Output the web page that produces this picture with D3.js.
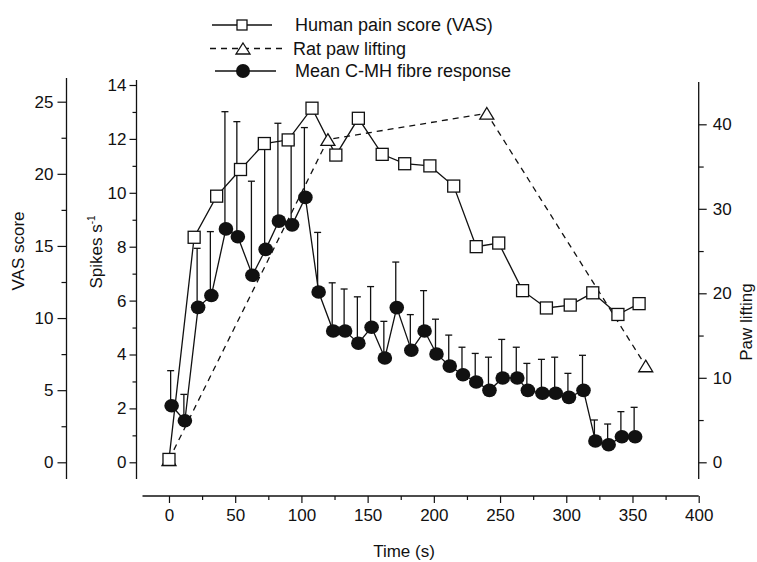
<!DOCTYPE html>
<html>
<head>
<meta charset="utf-8">
<script src="https://cdn.jsdelivr.net/npm/d3@7"></script>
<style>
  html, body { margin: 0; padding: 0; background: #fff; }
  svg { display: block; font-family: "Liberation Sans", Arial, Helvetica, sans-serif; }
</style>
</head>
<body>
<div id="chart"></div>
<script>
// ---------------- data ----------------
const timeTicks = [0, 50, 100, 150, 200, 250, 300, 350, 400];
const vasTicks = [0, 5, 10, 15, 20, 25];
const spikeTicks = [0, 2, 4, 6, 8, 10, 12, 14];
const pawTicks = [0, 10, 20, 30, 40];

const seriesNames = ["Human pain score (VAS)", "Rat paw lifting", "Mean C-MH fibre response"];

const vasTime  = [0, 19, 36, 54, 72, 90, 108, 126, 143, 161, 178, 197, 215, 232, 249, 267, 285, 303, 320, 339, 355];
const vasScore = [0.2, 15.6, 18.45, 20.3, 22.1, 22.35, 24.55, 21.3, 23.85, 21.35, 20.7, 20.55, 19.15, 14.95, 15.2, 11.9, 10.7, 10.9, 11.75, 10.25, 11.0];

const ratTime = [0, 120, 240, 360];
const ratPaw  = [0.3, 38.2, 41.3, 11.4];

const spikeTime = [2, 12, 22, 32, 43, 52, 63, 73, 83, 93, 103, 113, 124, 133, 143, 153, 163, 172, 183, 193, 202, 212, 222, 232, 242, 252, 263, 271, 282, 292, 302, 313, 322, 332, 342, 352];
const spikeMean = [2.10, 1.54, 5.75, 6.19, 8.66, 8.37, 6.94, 7.90, 8.95, 8.81, 9.83, 6.32, 4.87, 4.87, 4.42, 5.01, 3.87, 5.74, 4.16, 4.87, 4.02, 3.57, 3.25, 2.98, 2.67, 3.13, 3.13, 2.67, 2.56, 2.56, 2.41, 2.67, 0.79, 0.65, 0.95, 0.95];
const spikeSem  = [1.30, 0.98, 2.19, 2.37, 4.35, 4.27, 3.49, 3.75, 3.63, 3.0, 2.59, 2.21, 1.79, 1.56, 1.72, 1.51, 1.36, 1.69, 1.32, 1.50, 1.29, 1.15, 1.02, 1.06, 1.23, 1.43, 1.14, 1.00, 1.26, 1.34, 0.89, 1.30, 0.78, 0.77, 0.93, 1.09];

// ---------------- layout ----------------
const W = 757, H = 562;
const axisTop = 80, axisBottom = 479;
const svg = d3.select("#chart").append("svg").attr("width", W).attr("height", H);

const x = d3.scaleLinear().domain([-20, 400]).range([142.5, 698.7]);
const yVas = d3.scaleLinear().domain([0, 25]).range([462.3, 101.7]);
const ySp = d3.scaleLinear().domain([0, 14]).range([462.3, 85]);
const yPaw = d3.scaleLinear().domain([0, 40]).range([462.3, 124.3]);

const xVasAxis = 66.5, xSpAxis = 136.5, xPawAxis = x(400);
const FS = 17;

function styleAxis(g) {
  g.select(".domain").remove();
  g.selectAll(".tick line").attr("stroke", "#111").attr("stroke-width", 1.2);
  g.selectAll(".tick text").attr("fill", "#111").attr("font-size", FS).attr("font-family", null);
}

// VAS axis
svg.append("line").attr("x1", xVasAxis).attr("x2", xVasAxis).attr("y1", axisTop - 2).attr("y2", axisBottom)
  .attr("stroke", "#111").attr("stroke-width", 1.3);
svg.append("g").attr("transform", `translate(${xVasAxis},0)`)
  .call(d3.axisLeft(yVas).tickValues(vasTicks).tickSize(9).tickPadding(4)).call(styleAxis);
svg.append("g").attr("transform", `translate(${xVasAxis},0)`)
  .call(d3.axisLeft(yVas).tickValues(vasTicks.slice(0, -1).map(v => v + 2.5)).tickSize(5).tickFormat(""))
  .call(styleAxis);

// Spikes axis
svg.append("line").attr("x1", xSpAxis).attr("x2", xSpAxis).attr("y1", axisTop).attr("y2", axisBottom)
  .attr("stroke", "#111").attr("stroke-width", 1.3);
svg.append("g").attr("transform", `translate(${xSpAxis},0)`)
  .call(d3.axisLeft(ySp).tickValues(spikeTicks).tickSize(7).tickPadding(3)).call(styleAxis);
svg.append("g").attr("transform", `translate(${xSpAxis},0)`)
  .call(d3.axisLeft(ySp).tickValues(spikeTicks.slice(0, -1).map(v => v + 1)).tickSize(4).tickFormat(""))
  .call(styleAxis);

// Paw axis (right)
svg.append("line").attr("x1", xPawAxis).attr("x2", xPawAxis).attr("y1", axisTop + 2).attr("y2", axisBottom)
  .attr("stroke", "#111").attr("stroke-width", 1.3);
svg.append("g").attr("transform", `translate(${xPawAxis},0)`)
  .call(d3.axisRight(yPaw).tickValues(pawTicks).tickSize(8).tickPadding(6)).call(styleAxis);
svg.append("g").attr("transform", `translate(${xPawAxis},0)`)
  .call(d3.axisRight(yPaw).tickValues(pawTicks.slice(0, -1).map(v => v + 5)).tickSize(5).tickFormat(""))
  .call(styleAxis);

// X axis
const xAxisY = 496;
svg.append("line").attr("x1", x(-20)).attr("x2", x(400)).attr("y1", xAxisY).attr("y2", xAxisY)
  .attr("stroke", "#111").attr("stroke-width", 1.3);
svg.append("g").attr("transform", `translate(0,${xAxisY})`)
  .call(d3.axisBottom(x).tickValues(timeTicks).tickSize(7).tickPadding(6)).call(styleAxis);
svg.append("g").attr("transform", `translate(0,${xAxisY})`)
  .call(d3.axisBottom(x).tickValues(timeTicks.slice(0, -1).map(v => v + 25)).tickSize(4).tickFormat(""))
  .call(styleAxis);

// Axis titles
svg.append("text").attr("transform", `translate(24,251) rotate(-90)`).attr("text-anchor", "middle")
  .attr("font-size", FS).attr("fill", "#111").text("VAS score");
const sp = svg.append("text").attr("transform", `translate(102,252) rotate(-90)`).attr("text-anchor", "middle")
  .attr("font-size", FS).attr("fill", "#111");
sp.append("tspan").text("Spikes s");
sp.append("tspan").attr("font-size", 10).attr("dy", -7).text("-1");
svg.append("text").attr("transform", `translate(752,322) rotate(-90)`).attr("text-anchor", "middle")
  .attr("font-size", FS).attr("fill", "#111").text("Paw lifting");
svg.append("text").attr("x", 404).attr("y", 557).attr("text-anchor", "middle")
  .attr("font-size", FS).attr("fill", "#111").text("Time (s)");

// ---------------- series ----------------
const plot = svg.append("g");

const vasData = vasTime.map((t, i) => ({ t, v: vasScore[i] }));
const ratData = ratTime.map((t, i) => ({ t, v: ratPaw[i] }));
const spData = spikeTime.map((t, i) => ({ t, v: spikeMean[i], e: spikeSem[i] }));

// Rat dashed line
plot.append("path").datum(ratData)
  .attr("d", d3.line().x(d => x(d.t)).y(d => yPaw(d.v)))
  .attr("fill", "none").attr("stroke", "#111").attr("stroke-width", 1.3).attr("stroke-dasharray", "6,5");

// VAS line
plot.append("path").datum(vasData)
  .attr("d", d3.line().x(d => x(d.t)).y(d => yVas(d.v)))
  .attr("fill", "none").attr("stroke", "#111").attr("stroke-width", 1.3);

// Spikes line
plot.append("path").datum(spData)
  .attr("d", d3.line().x(d => x(d.t)).y(d => ySp(d.v)))
  .attr("fill", "none").attr("stroke", "#111").attr("stroke-width", 1.3);

// Error bars (upper only)
const eb = plot.append("g").attr("stroke", "#111").attr("stroke-width", 1.3);
eb.selectAll(".ev").data(spData).join("line")
  .attr("x1", d => x(d.t) - 1).attr("x2", d => x(d.t) - 1)
  .attr("y1", d => ySp(d.v)).attr("y2", d => ySp(d.v + d.e));
eb.selectAll(".ec").data(spData).join("line")
  .attr("x1", d => x(d.t) - 4.5).attr("x2", d => x(d.t) + 2.5)
  .attr("y1", d => ySp(d.v + d.e)).attr("y2", d => ySp(d.v + d.e));

// Circles
plot.append("g").selectAll("ellipse").data(spData).join("ellipse")
  .attr("cx", d => x(d.t)).attr("cy", d => ySp(d.v)).attr("rx", 7.3).attr("ry", 6.8)
  .attr("fill", "#111");

// Triangles
const triPath = (cx, cy, hw, hh) => `M${cx},${cy - hh}L${cx + hw},${cy + hh}L${cx - hw},${cy + hh}Z`;
plot.append("g").selectAll("path").data(ratData).join("path")
  .attr("d", d => triPath(x(d.t), yPaw(d.v), 7, 5.8))
  .attr("fill", "#fff").attr("stroke", "#111").attr("stroke-width", 1.3);

// Squares
plot.append("g").selectAll("rect").data(vasData).join("rect")
  .attr("x", d => x(d.t) - 6).attr("y", d => yVas(d.v) - 6).attr("width", 12).attr("height", 12)
  .attr("fill", "#fff").attr("stroke", "#111").attr("stroke-width", 1.3);

// ---------------- legend ----------------
const leg = svg.append("g");
const rows = [
  { y: 25, x1: 212, x2: 272, mx: 242, text: seriesNames[0], kind: "square" },
  { y: 48.5, x1: 210, x2: 282, mx: 243, text: seriesNames[1], kind: "triangle" },
  { y: 71, x1: 215, x2: 276, mx: 243, text: seriesNames[2], kind: "circle" }
];
rows.forEach(r => {
  const ln = leg.append("line").attr("x1", r.x1).attr("x2", r.x2).attr("y1", r.y).attr("y2", r.y)
    .attr("stroke", "#111").attr("stroke-width", 1.3);
  if (r.kind === "triangle") ln.attr("stroke-dasharray", "6,5");
  if (r.kind === "square") {
    leg.append("rect").attr("x", r.mx - 5).attr("y", r.y - 5).attr("width", 10).attr("height", 10)
      .attr("fill", "#fff").attr("stroke", "#111").attr("stroke-width", 1.3);
  } else if (r.kind === "triangle") {
    leg.append("path").attr("d", triPath(r.mx, r.y, 7, 5.5))
      .attr("fill", "#fff").attr("stroke", "#111").attr("stroke-width", 1.3);
  } else {
    leg.append("circle").attr("cx", r.mx).attr("cy", r.y).attr("r", 7).attr("fill", "#111");
  }
  leg.append("text").attr("x", r.kind === "triangle" ? 293 : 295).attr("y", r.y + 6)
    .attr("font-size", 18).attr("fill", "#111").text(r.text);
});
</script>
</body>
</html>
